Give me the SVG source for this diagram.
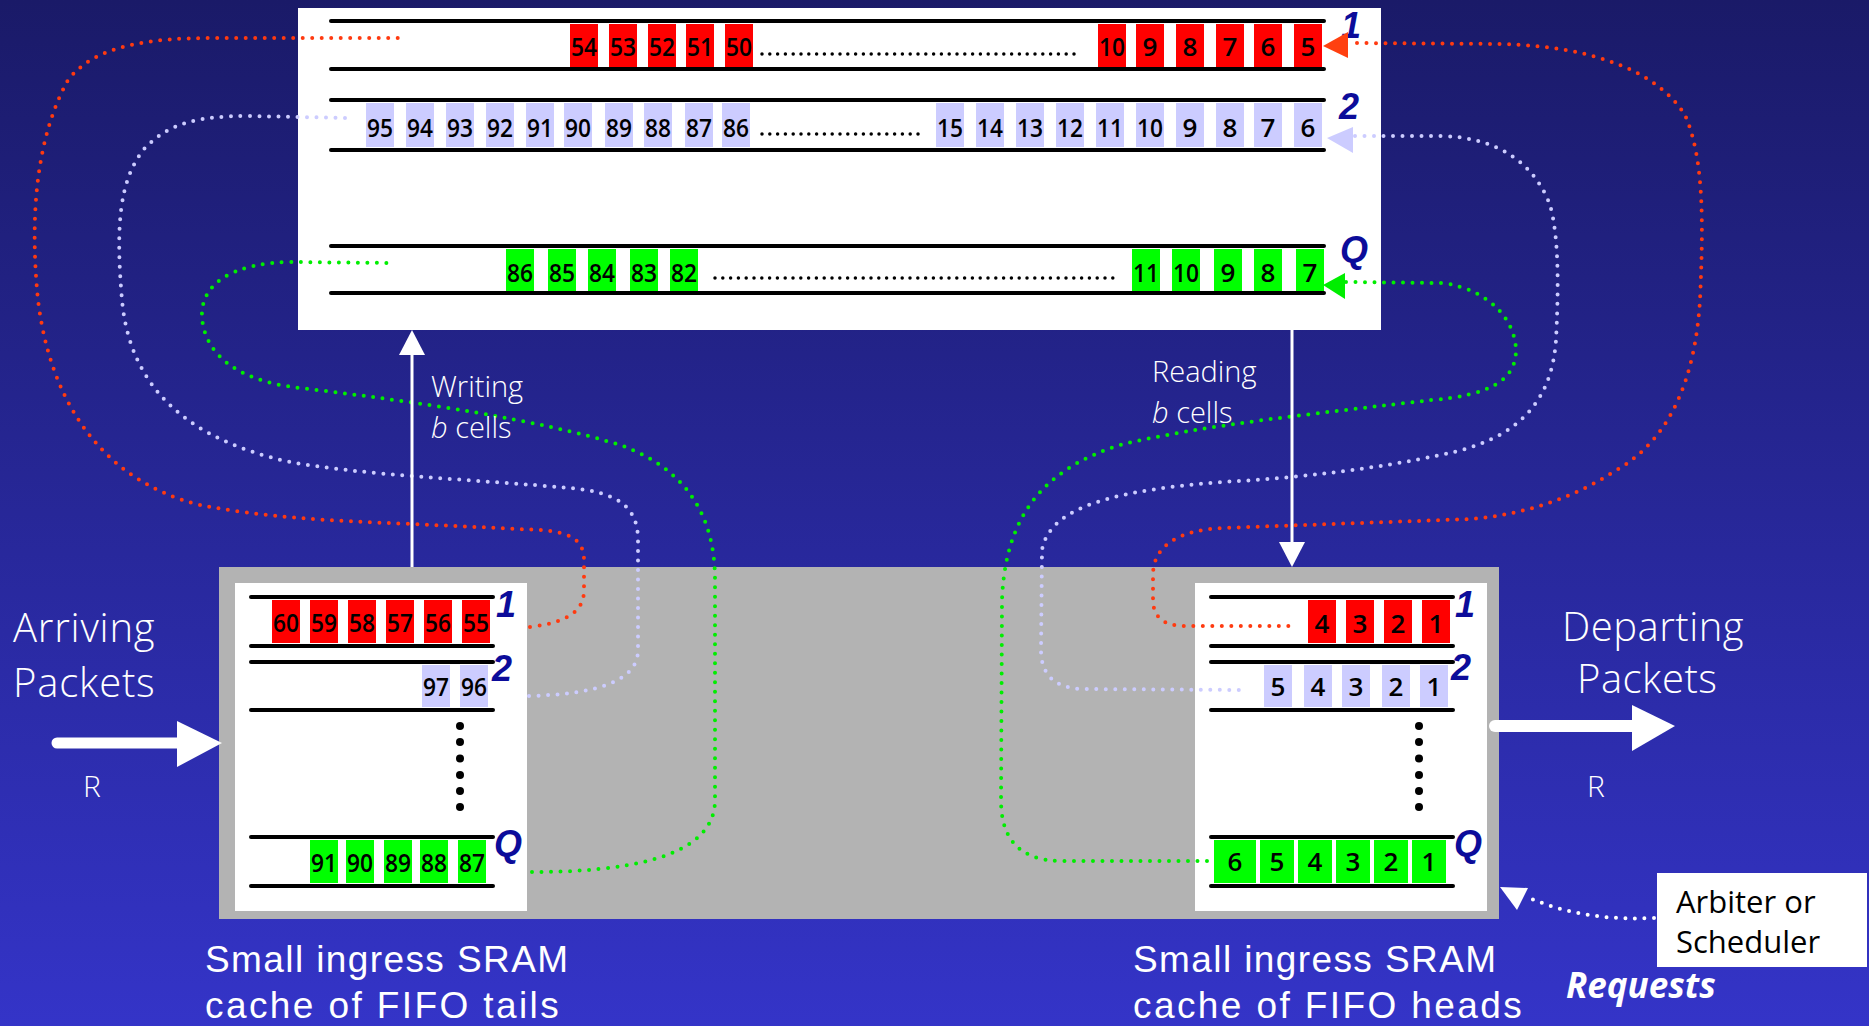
<svg xmlns="http://www.w3.org/2000/svg" width="1869" height="1026" viewBox="0 0 1869 1026">
<defs>
<linearGradient id="bg" x1="0" y1="0" x2="0" y2="1">
<stop offset="0" stop-color="#1a1a68"/>
<stop offset="1" stop-color="#3434c8"/>
</linearGradient>
</defs>
<style>
.wl{stroke:#000;stroke-width:4;stroke-linecap:round}
.red{fill:#ff0000}.lav{fill:#ccccff}.grn{fill:#00ff00}
.num{font-family:"Open Sans","DejaVu Sans",sans-serif;font-weight:600;font-size:26px;fill:#000;text-anchor:middle}
.lbl{font-family:"Liberation Sans",Arial,sans-serif;font-weight:bold;font-style:italic;font-size:36px;fill:#0c0c9a}
.lead{stroke:#000;stroke-width:3.5;stroke-linecap:round;stroke-dasharray:0 7.8;fill:none}
.dr{fill:none;stroke:#ff3a10;stroke-width:4;stroke-linecap:round;stroke-dasharray:0 9.5}
.dl{fill:none;stroke:#ccccff;stroke-width:4;stroke-linecap:round;stroke-dasharray:0 9.5}
.dg{fill:none;stroke:#00ee00;stroke-width:4;stroke-linecap:round;stroke-dasharray:0 9.5}
.dw{fill:none;stroke:#ffffff;stroke-width:4;stroke-linecap:round;stroke-dasharray:0 9.5}
.wt{font-family:"Open Sans","DejaVu Sans",sans-serif;font-weight:300;fill:#fff}
.cap{font-family:"Liberation Sans",Arial,sans-serif;font-weight:normal;font-size:37px}
</style>
<rect x="0" y="0" width="1869" height="1026" fill="url(#bg)"/>

<g id="dram">
<rect x="298" y="8" width="1083" height="322" fill="#fff"/>
<line class="wl" x1="331" y1="21" x2="1324" y2="21"/>
<line class="wl" x1="331" y1="69" x2="1324" y2="69"/>
<line class="wl" x1="331" y1="100" x2="1324" y2="100"/>
<line class="wl" x1="331" y1="150" x2="1324" y2="150"/>
<line class="wl" x1="331" y1="246" x2="1324" y2="246"/>
<line class="wl" x1="331" y1="293" x2="1324" y2="293"/>
<g class="red">
<rect x="570" y="24" width="28" height="43"/><rect x="609" y="24" width="28" height="43"/><rect x="648" y="24" width="28" height="43"/><rect x="686" y="24" width="28" height="43"/><rect x="725" y="24" width="28" height="43"/>
<rect x="1098" y="24" width="28" height="43"/><rect x="1136" y="24" width="28" height="43"/><rect x="1176" y="24" width="28" height="43"/><rect x="1216" y="24" width="28" height="43"/><rect x="1254" y="24" width="28" height="43"/><rect x="1294" y="24" width="28" height="43"/>
</g>
<g class="lav">
<rect x="366" y="103" width="28" height="44"/><rect x="406" y="103" width="28" height="44"/><rect x="446" y="103" width="28" height="44"/><rect x="486" y="103" width="28" height="44"/><rect x="526" y="103" width="28" height="44"/><rect x="564" y="103" width="28" height="44"/><rect x="605" y="103" width="28" height="44"/><rect x="644" y="103" width="28" height="44"/><rect x="685" y="103" width="28" height="44"/><rect x="722" y="103" width="28" height="44"/>
<rect x="936" y="103" width="28" height="44"/><rect x="976" y="103" width="28" height="44"/><rect x="1016" y="103" width="28" height="44"/><rect x="1056" y="103" width="28" height="44"/><rect x="1096" y="103" width="28" height="44"/><rect x="1136" y="103" width="28" height="44"/><rect x="1176" y="103" width="28" height="44"/><rect x="1216" y="103" width="28" height="44"/><rect x="1254" y="103" width="28" height="44"/><rect x="1294" y="103" width="28" height="44"/>
</g>
<g class="grn">
<rect x="506" y="249" width="28" height="42"/><rect x="548" y="249" width="28" height="42"/><rect x="588" y="249" width="28" height="42"/><rect x="630" y="249" width="28" height="42"/><rect x="670" y="249" width="28" height="42"/>
<rect x="1132" y="249" width="28" height="42"/><rect x="1172" y="249" width="28" height="42"/><rect x="1214" y="249" width="28" height="42"/><rect x="1254" y="249" width="28" height="42"/><rect x="1296" y="249" width="28" height="42"/>
</g>
<g class="num">
<text x="584" y="56" textLength="26" lengthAdjust="spacingAndGlyphs">54</text><text x="623" y="56" textLength="26" lengthAdjust="spacingAndGlyphs">53</text><text x="662" y="56" textLength="26" lengthAdjust="spacingAndGlyphs">52</text><text x="700" y="56" textLength="26" lengthAdjust="spacingAndGlyphs">51</text><text x="739" y="56" textLength="26" lengthAdjust="spacingAndGlyphs">50</text>
<text x="1112" y="56" textLength="26" lengthAdjust="spacingAndGlyphs">10</text><text x="1150" y="56">9</text><text x="1190" y="56">8</text><text x="1230" y="56">7</text><text x="1268" y="56">6</text><text x="1308" y="56">5</text>
<text x="380" y="137" textLength="26" lengthAdjust="spacingAndGlyphs">95</text><text x="420" y="137" textLength="26" lengthAdjust="spacingAndGlyphs">94</text><text x="460" y="137" textLength="26" lengthAdjust="spacingAndGlyphs">93</text><text x="500" y="137" textLength="26" lengthAdjust="spacingAndGlyphs">92</text><text x="540" y="137" textLength="26" lengthAdjust="spacingAndGlyphs">91</text><text x="578" y="137" textLength="26" lengthAdjust="spacingAndGlyphs">90</text><text x="619" y="137" textLength="26" lengthAdjust="spacingAndGlyphs">89</text><text x="658" y="137" textLength="26" lengthAdjust="spacingAndGlyphs">88</text><text x="699" y="137" textLength="26" lengthAdjust="spacingAndGlyphs">87</text><text x="736" y="137" textLength="26" lengthAdjust="spacingAndGlyphs">86</text>
<text x="950" y="137" textLength="26" lengthAdjust="spacingAndGlyphs">15</text><text x="990" y="137" textLength="26" lengthAdjust="spacingAndGlyphs">14</text><text x="1030" y="137" textLength="26" lengthAdjust="spacingAndGlyphs">13</text><text x="1070" y="137" textLength="26" lengthAdjust="spacingAndGlyphs">12</text><text x="1110" y="137" textLength="26" lengthAdjust="spacingAndGlyphs">11</text><text x="1150" y="137" textLength="26" lengthAdjust="spacingAndGlyphs">10</text><text x="1190" y="137">9</text><text x="1230" y="137">8</text><text x="1268" y="137">7</text><text x="1308" y="137">6</text>
<text x="520" y="282" textLength="26" lengthAdjust="spacingAndGlyphs">86</text><text x="562" y="282" textLength="26" lengthAdjust="spacingAndGlyphs">85</text><text x="602" y="282" textLength="26" lengthAdjust="spacingAndGlyphs">84</text><text x="644" y="282" textLength="26" lengthAdjust="spacingAndGlyphs">83</text><text x="684" y="282" textLength="26" lengthAdjust="spacingAndGlyphs">82</text>
<text x="1146" y="282" textLength="26" lengthAdjust="spacingAndGlyphs">11</text><text x="1186" y="282" textLength="26" lengthAdjust="spacingAndGlyphs">10</text><text x="1228" y="282">9</text><text x="1268" y="282">8</text><text x="1310" y="282">7</text>
</g>
<line class="lead" x1="762" y1="54" x2="1079" y2="54"/>
<line class="lead" x1="762" y1="134" x2="923" y2="134"/>
<line class="lead" x1="715" y1="278" x2="1113" y2="278"/>
<text class="lbl" x="1341" y="38">1</text>
<text class="lbl" x="1339" y="119">2</text>
<text class="lbl" x="1340" y="262">Q</text>
</g>

<g id="sram">
<rect x="219" y="567" width="1280" height="352" fill="#b3b3b3"/>
</g>

<g id="tails">
<rect x="235" y="583" width="292" height="328" fill="#fff"/>
<line class="wl" x1="251" y1="597" x2="493" y2="597"/><line class="wl" x1="251" y1="646" x2="493" y2="646"/>
<line class="wl" x1="251" y1="662" x2="493" y2="662"/><line class="wl" x1="251" y1="710" x2="493" y2="710"/>
<line class="wl" x1="251" y1="837" x2="493" y2="837"/><line class="wl" x1="251" y1="886" x2="493" y2="886"/>
<g class="red"><rect x="272" y="600" width="28" height="43"/><rect x="310" y="600" width="28" height="43"/><rect x="348" y="600" width="28" height="43"/><rect x="386" y="600" width="28" height="43"/><rect x="424" y="600" width="28" height="43"/><rect x="462" y="600" width="28" height="43"/></g>
<g class="lav"><rect x="422" y="665" width="28" height="42"/><rect x="460" y="665" width="28" height="42"/></g>
<g class="grn"><rect x="310" y="840" width="28" height="43"/><rect x="346" y="840" width="28" height="43"/><rect x="384" y="840" width="28" height="43"/><rect x="420" y="840" width="28" height="43"/><rect x="458" y="840" width="28" height="43"/></g>
<g class="num">
<text x="286" y="632" textLength="26" lengthAdjust="spacingAndGlyphs">60</text><text x="324" y="632" textLength="26" lengthAdjust="spacingAndGlyphs">59</text><text x="362" y="632" textLength="26" lengthAdjust="spacingAndGlyphs">58</text><text x="400" y="632" textLength="26" lengthAdjust="spacingAndGlyphs">57</text><text x="438" y="632" textLength="26" lengthAdjust="spacingAndGlyphs">56</text><text x="476" y="632" textLength="26" lengthAdjust="spacingAndGlyphs">55</text>
<text x="436" y="696" textLength="26" lengthAdjust="spacingAndGlyphs">97</text><text x="474" y="696" textLength="26" lengthAdjust="spacingAndGlyphs">96</text>
<text x="324" y="872" textLength="26" lengthAdjust="spacingAndGlyphs">91</text><text x="360" y="872" textLength="26" lengthAdjust="spacingAndGlyphs">90</text><text x="398" y="872" textLength="26" lengthAdjust="spacingAndGlyphs">89</text><text x="434" y="872" textLength="26" lengthAdjust="spacingAndGlyphs">88</text><text x="472" y="872" textLength="26" lengthAdjust="spacingAndGlyphs">87</text>
</g>
<g fill="#000"><circle cx="460" cy="726" r="4"/><circle cx="460" cy="742" r="4"/><circle cx="460" cy="758.5" r="4"/><circle cx="460" cy="775" r="4"/><circle cx="460" cy="791" r="4"/><circle cx="460" cy="807" r="4"/></g>
<text class="lbl" x="496" y="617">1</text>
<text class="lbl" x="492" y="681">2</text>
<text class="lbl" x="494" y="856">Q</text>
</g>

<g id="heads">
<rect x="1195" y="583" width="292" height="328" fill="#fff"/>
<line class="wl" x1="1211" y1="597" x2="1453" y2="597"/><line class="wl" x1="1211" y1="646" x2="1453" y2="646"/>
<line class="wl" x1="1211" y1="662" x2="1453" y2="662"/><line class="wl" x1="1211" y1="710" x2="1453" y2="710"/>
<line class="wl" x1="1211" y1="837" x2="1453" y2="837"/><line class="wl" x1="1211" y1="886" x2="1453" y2="886"/>
<g class="red"><rect x="1308" y="600" width="28" height="43"/><rect x="1346" y="600" width="28" height="43"/><rect x="1384" y="600" width="28" height="43"/><rect x="1422" y="600" width="28" height="43"/></g>
<g class="lav"><rect x="1264" y="665" width="28" height="42"/><rect x="1304" y="665" width="28" height="42"/><rect x="1342" y="665" width="28" height="42"/><rect x="1382" y="665" width="28" height="42"/><rect x="1420" y="665" width="28" height="42"/></g>
<g class="grn"><rect x="1214" y="840" width="42" height="43"/><rect x="1260" y="840" width="34" height="43"/><rect x="1298" y="840" width="34" height="43"/><rect x="1336" y="840" width="34" height="43"/><rect x="1374" y="840" width="34" height="43"/><rect x="1412" y="840" width="34" height="43"/></g>
<g class="num">
<text x="1322" y="633">4</text><text x="1360" y="633">3</text><text x="1398" y="633">2</text><text x="1436" y="633">1</text>
<text x="1278" y="696">5</text><text x="1318" y="696">4</text><text x="1356" y="696">3</text><text x="1396" y="696">2</text><text x="1434" y="696">1</text>
<text x="1235" y="871">6</text><text x="1277" y="871">5</text><text x="1315" y="871">4</text><text x="1353" y="871">3</text><text x="1391" y="871">2</text><text x="1429" y="871">1</text>
</g>
<g fill="#000"><circle cx="1419" cy="726" r="4"/><circle cx="1419" cy="742" r="4"/><circle cx="1419" cy="758.5" r="4"/><circle cx="1419" cy="775" r="4"/><circle cx="1419" cy="791" r="4"/><circle cx="1419" cy="807" r="4"/></g>
<text class="lbl" x="1455" y="617">1</text>
<text class="lbl" x="1451" y="680">2</text>
<text class="lbl" x="1454" y="856">Q</text>
</g>

<g id="arbiter">
<rect x="1657" y="873" width="210" height="94" fill="#fff"/>
<text x="1676" y="913" font-family="Open Sans, sans-serif" font-size="31" fill="#000">Arbiter or</text>
<text x="1676" y="953" font-family="Open Sans, sans-serif" font-size="31" fill="#000">Scheduler</text>
</g>

<g id="connectors">
<path class="dr" d="M 530 627 C 570 622 584 610 584 590 L 584 560 C 584 540 570 532 540 530 L 412 524 C 330 521 262 517 200 505 C 100 480 50 400 38 300 C 30 220 35 140 68 80 C 95 45 150 38 213 38 L 406 38"/>
<path class="dl" d="M 529 696 C 600 694 638 680 638 650 L 638 540 C 638 505 615 492 570 488 C 480 480 360 475 290 462 C 190 440 130 390 122 300 C 116 230 118 180 145 148 C 170 122 200 116 250 116 L 349 118"/>
<path class="dg" d="M 532 872 C 620 872 715 860 715 800 L 715 580 C 715 520 690 470 620 445 C 540 420 420 402 300 388 C 230 380 205 350 202 318 C 200 285 230 263 291 262 L 390 263"/>
<path class="dr" d="M 1357 43 L 1499 44 C 1600 46 1660 75 1685 115 C 1705 160 1703 230 1700 300 C 1695 380 1670 440 1615 471 C 1570 500 1520 515 1471 519 L 1222 528 C 1180 530 1153 545 1153 575 L 1153 600 C 1153 618 1165 626 1185 626 L 1293 626"/>
<path class="dl" d="M 1355 136 L 1443 136 C 1500 138 1535 165 1550 205 C 1560 240 1558 300 1556 340 C 1552 400 1520 440 1440 455 C 1380 468 1300 478 1222 482 C 1120 490 1050 505 1042 550 L 1041 650 C 1041 675 1055 689 1085 689 L 1248 690"/>
<path class="dg" d="M 1346 282 L 1443 283 C 1490 290 1515 320 1516 350 C 1516 380 1490 395 1432 400 C 1330 412 1200 425 1120 445 C 1040 470 1005 520 1002 600 L 1001 800 C 1001 840 1020 860 1060 861 L 1210 861"/>
<polygon points="1323,46 1348,32 1348,58" fill="#ff4010"/>
<polygon points="1327,138 1353,127 1353,153" fill="#ccccff"/>
<polygon points="1323,285 1345,273 1345,299" fill="#00ee00"/>
<path class="dw" d="M 1654 918 C 1610 920 1570 915 1532 899"/>
<polygon points="1500,887 1528,888 1517,910" fill="#fff"/>
<line x1="412" y1="567" x2="412" y2="350" stroke="#fff" stroke-width="3"/>
<polygon points="412,330 399,355 425,355" fill="#fff"/>
<line x1="1292" y1="330" x2="1292" y2="546" stroke="#fff" stroke-width="3"/>
<polygon points="1292,567 1279,542 1305,542" fill="#fff"/>
<line x1="57" y1="743" x2="180" y2="743" stroke="#fff" stroke-width="11" stroke-linecap="round"/>
<polygon points="177,721 222,743 177,767" fill="#fff"/>
<line x1="1495" y1="726" x2="1635" y2="726" stroke="#fff" stroke-width="12" stroke-linecap="round"/>
<polygon points="1632,705 1675,726 1632,751" fill="#fff"/>
</g>

<g id="labels" class="wt">
<text x="13" y="642" font-size="40" letter-spacing="0.8">Arriving</text>
<text x="13" y="697" font-size="40" letter-spacing="0.8">Packets</text>
<text x="83" y="797" font-size="30">R</text>
<text x="1562" y="641" font-size="40" letter-spacing="0.5">Departing</text>
<text x="1577" y="693" font-size="40" letter-spacing="0.5">Packets</text>
<text x="1587" y="797" font-size="30">R</text>
<text x="431" y="397" font-size="29">Writing</text>
<text x="431" y="438" font-size="29"><tspan font-style="italic">b</tspan> cells</text>
<text x="1152" y="382" font-size="29">Reading</text>
<text x="1152" y="423" font-size="29"><tspan font-style="italic">b</tspan> cells</text>
<text class="cap" x="205" y="972" letter-spacing="1.4">Small ingress SRAM</text>
<text class="cap" x="205" y="1018" letter-spacing="2.4">cache of FIFO tails</text>
<text class="cap" x="1133" y="972" letter-spacing="1.4">Small ingress SRAM</text>
<text class="cap" x="1133" y="1018" letter-spacing="2.4">cache of FIFO heads</text>
<text x="1566" y="998" font-size="35" font-weight="bold" font-style="italic">Requests</text>
</g>
</svg>
